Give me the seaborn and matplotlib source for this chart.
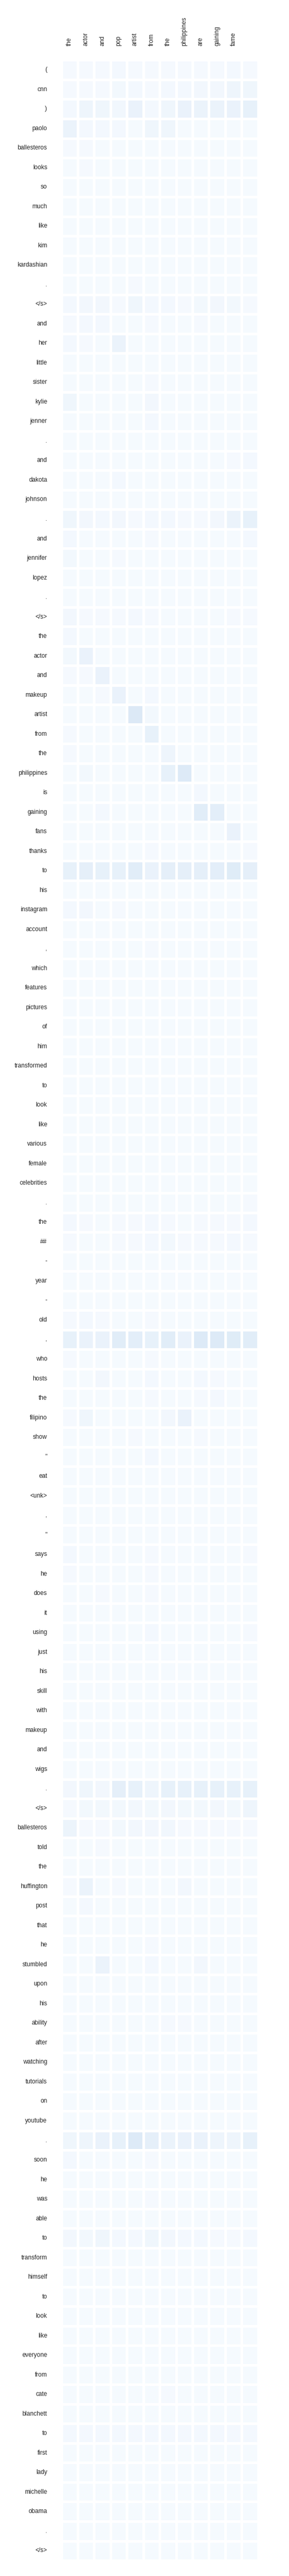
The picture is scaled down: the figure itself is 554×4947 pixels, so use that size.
"""
Attention heatmap: summary tokens (columns) against article tokens (rows).
"""

import numpy as np
import pandas as pd
import matplotlib
matplotlib.use("Agg")
import matplotlib.pyplot as plt
import seaborn as sns

# Column tokens (the last column carries no label in the original)
summary_tokens = ["the", "actor", "and", "pop", "artist", "from", "the",
                  "philippines", "are", "gaining", "fame", ""]

# Row tokens
article_tokens = [
    "(", "cnn", ")", "paolo", "ballesteros", "looks", "so", "much", "like",
    "kim", "kardashian", ".", "</s>", "and", "her", "little", "sister",
    "kylie", "jenner", ".", "and", "dakota", "johnson", ".", "and",
    "jennifer", "lopez", ".", "</s>", "the", "actor", "and", "makeup",
    "artist", "from", "the", "philippines", "is", "gaining", "fans",
    "thanks", "to", "his", "instagram", "account", ",", "which", "features",
    "pictures", "of", "him", "transformed", "to", "look", "like", "various",
    "female", "celebrities", ".", "the", "##", "-", "year", "-", "old", ",",
    "who", "hosts", "the", "filipino", "show", "\"", "eat", "<unk>", ",",
    "\"", "says", "he", "does", "it", "using", "just", "his", "skill",
    "with", "makeup", "and", "wigs", ".", "</s>", "ballesteros", "told",
    "the", "huffington", "post", "that", "he", "stumbled", "upon", "his",
    "ability", "after", "watching", "tutorials", "on", "youtube", ".",
    "soon", "he", "was", "able", "to", "transform", "himself", "to", "look",
    "like", "everyone", "from", "cate", "blanchett", "to", "first", "lady",
    "michelle", "obama", ".", "</s>",
]

# Attention weights, one list per row (row token in the comment)
attn_part1 = [
    [.015, .015, .015, .02, .015, .015, .015, .015, .015, .015, .02, .015],  # (
    [.015, .015, .015, .025, .02, .015, .02, .02, .03, .03, .05, .04],  # cnn
    [.02, .05, .04, .035, .07, .02, .04, .07, .06, .06, .07, .08],  # )
    [.06, .02, .02, .02, .01, .04, .04, .01, .01, .01, .01, .01],  # paolo
    [.015, .015, .01, .01, .01, .01, .01, .01, .01, .01, .01, .01],  # ballesteros
    [.01, .015, .01, .01, .01, .01, .01, .01, .01, .01, .01, .01],  # looks
    [.01, .01, .01, .01, .01, .01, .01, .01, .01, .01, .01, .01],  # so
    [.01, .01, .01, .01, .01, .01, .01, .01, .01, .01, .01, .01],  # much
    [.01, .01, .01, .01, .01, .01, .01, .01, .01, .01, .01, .01],  # like
    [.01, .01, .01, .01, .01, .01, .01, .01, .01, .01, .01, .01],  # kim
    [.01, .01, .01, .01, .01, .01, .01, .01, .01, .01, .01, .01],  # kardashian
    [.01, .01, .01, .01, .015, .01, .01, .01, .01, .01, .01, .01],  # .
    [.02, .03, .03, .015, .04, .02, .02, .015, .025, .03, .025, .015],  # </s>
    [.015, .02, .02, .01, .01, .015, .01, .01, .015, .01, .01, .01],  # and
    [.02, .015, .01, .06, .01, .01, .01, .01, .01, .01, .01, .01],  # her
    [.01, .01, .01, .01, .01, .01, .01, .01, .01, .01, .01, .01],  # little
    [.01, .01, .01, .01, .01, .015, .01, .01, .01, .01, .01, .01],  # sister
    [.04, .01, .01, .01, .01, .03, .01, .01, .01, .01, .01, .01],  # kylie
    [.01, .01, .01, .01, .01, .02, .01, .01, .01, .01, .01, .01],  # jenner
    [.01, .01, .01, .01, .01, .01, .01, .01, .01, .01, .01, .01],  # .
    [.01, .01, .01, .01, .01, .01, .01, .01, .01, .01, .015, .02],  # and
    [.01, .01, .01, .02, .01, .01, .01, .01, .01, .01, .01, .01],  # dakota
    [.01, .01, .01, .01, .01, .01, .01, .01, .01, .01, .01, .01],  # johnson
    [.04, .03, .02, .03, .015, .02, .02, .015, .015, .03, .06, .08],  # .
    [.02, .01, .01, .01, .01, .015, .01, .01, .01, .01, .01, .02],  # and
    [.025, .01, .01, .015, .01, .01, .01, .01, .01, .01, .01, .01],  # jennifer
    [.01, .01, .01, .01, .01, .01, .01, .01, .01, .01, .01, .01],  # lopez
    [.01, .01, .01, .01, .01, .01, .01, .01, .01, .01, .01, .01],  # .
    [.03, .015, .015, .015, .02, .015, .01, .01, .01, .01, .015, .015],  # </s>
]

attn_part2 = [
    [.02, .01, .01, .01, .01, .01, .01, .01, .01, .01, .01, .01],  # the
    [.025, .07, .01, .01, .01, .01, .01, .01, .01, .01, .01, .01],  # actor
    [.015, .015, .07, .01, .01, .01, .01, .01, .01, .01, .01, .01],  # and
    [.01, .01, .015, .07, .01, .02, .01, .01, .01, .01, .01, .01],  # makeup
    [.01, .01, .01, .01, .14, .025, .01, .01, .01, .01, .01, .01],  # artist
    [.015, .01, .01, .01, .01, .08, .01, .01, .01, .01, .01, .01],  # from
    [.015, .01, .01, .01, .01, .01, .045, .01, .01, .01, .01, .01],  # the
    [.01, .025, .01, .01, .01, .01, .08, .13, .01, .01, .01, .01],  # philippines
    [.01, .01, .01, .01, .01, .01, .01, .01, .02, .01, .01, .01],  # is
    [.01, .01, .02, .01, .01, .01, .01, .01, .11, .10, .01, .01],  # gaining
    [.01, .01, .01, .01, .01, .01, .01, .01, .01, .01, .07, .01],  # fans
    [.01, .01, .01, .01, .01, .015, .01, .01, .01, .01, .01, .015],  # thanks
    [.08, .09, .08, .08, .11, .07, .09, .09, .09, .10, .12, .09],  # to
    [.01, .01, .01, .01, .01, .01, .01, .01, .01, .01, .01, .01],  # his
    [.02, .03, .01, .015, .01, .01, .01, .01, .01, .01, .01, .01],  # instagram
    [.01, .01, .01, .01, .01, .01, .01, .01, .01, .01, .01, .01],  # account
    [.01, .01, .01, .01, .01, .015, .01, .01, .01, .01, .01, .01],  # ,
    [.01, .01, .01, .01, .01, .01, .01, .01, .01, .01, .01, .01],  # which
    [.01, .01, .01, .01, .01, .01, .01, .01, .01, .01, .01, .01],  # features
    [.01, .01, .01, .01, .01, .01, .01, .01, .01, .01, .01, .01],  # pictures
    [.01, .01, .01, .01, .01, .01, .01, .01, .01, .01, .01, .01],  # of
    [.01, .01, .01, .01, .01, .01, .01, .01, .01, .01, .01, .01],  # him
    [.01, .01, .01, .01, .01, .01, .01, .01, .01, .01, .01, .01],  # transformed
    [.01, .01, .01, .01, .01, .01, .01, .01, .01, .01, .01, .01],  # to
    [.01, .01, .01, .01, .01, .01, .01, .01, .01, .01, .01, .01],  # look
    [.01, .01, .01, .01, .01, .01, .01, .01, .01, .01, .01, .01],  # like
    [.01, .01, .01, .01, .01, .01, .01, .01, .01, .01, .01, .01],  # various
    [.01, .01, .01, .01, .01, .01, .01, .01, .01, .01, .01, .01],  # female
    [.01, .01, .01, .01, .01, .01, .01, .01, .01, .01, .01, .01],  # celebrities
    [.01, .01, .01, .01, .01, .01, .01, .01, .01, .01, .01, .015],  # .
]

attn_part3 = [
    [.02, .015, .01, .015, .015, .02, .015, .01, .015, .015, .015, .02],  # the
    [.015, .01, .01, .015, .015, .02, .025, .015, .015, .015, .02, .015],  # ##
    [.01, .01, .01, .01, .01, .01, .01, .01, .01, .01, .01, .01],  # -
    [.01, .01, .01, .01, .01, .01, .01, .01, .01, .01, .01, .01],  # year
    [.01, .01, .01, .01, .01, .01, .01, .01, .01, .01, .01, .01],  # -
    [.015, .02, .015, .01, .01, .015, .01, .01, .01, .01, .01, .01],  # old
    [.08, .07, .07, .11, .10, .08, .11, .07, .13, .13, .12, .11],  # ,
    [.015, .01, .01, .01, .01, .015, .01, .01, .01, .01, .01, .01],  # who
    [.01, .01, .03, .01, .01, .02, .01, .01, .02, .015, .01, .01],  # hosts
    [.01, .01, .01, .01, .01, .015, .01, .01, .015, .02, .01, .01],  # the
    [.015, .04, .01, .01, .01, .01, .03, .07, .01, .01, .01, .01],  # filipino
    [.01, .01, .01, .01, .015, .01, .01, .01, .015, .01, .01, .01],  # show
    [.01, .01, .01, .01, .01, .02, .01, .01, .01, .01, .01, .01],  # "
    [.01, .01, .01, .01, .01, .01, .01, .01, .01, .01, .01, .01],  # eat
    [.01, .01, .01, .01, .01, .01, .01, .01, .01, .01, .01, .01],  # <unk>
    [.01, .01, .01, .01, .01, .01, .01, .01, .01, .01, .01, .01],  # ,
    [.01, .01, .01, .01, .01, .01, .01, .01, .01, .01, .01, .01],  # "
    [.02, .01, .01, .01, .01, .015, .01, .01, .01, .01, .01, .015],  # says
    [.015, .01, .01, .01, .01, .015, .01, .01, .01, .01, .01, .01],  # he
    [.01, .01, .015, .01, .01, .015, .01, .01, .01, .01, .01, .01],  # does
    [.01, .01, .01, .01, .01, .01, .01, .01, .01, .01, .01, .01],  # it
    [.01, .01, .01, .01, .01, .02, .01, .01, .01, .01, .01, .015],  # using
    [.01, .01, .01, .01, .01, .01, .01, .01, .01, .01, .01, .01],  # just
    [.01, .01, .01, .01, .01, .01, .01, .01, .01, .01, .01, .01],  # his
    [.01, .01, .01, .01, .01, .01, .01, .01, .01, .01, .01, .01],  # skill
    [.01, .01, .01, .01, .01, .01, .01, .01, .01, .01, .01, .01],  # with
    [.01, .01, .01, .01, .01, .01, .01, .01, .01, .01, .01, .01],  # makeup
    [.01, .01, .01, .01, .01, .01, .01, .01, .01, .01, .01, .01],  # and
    [.01, .01, .01, .01, .01, .01, .01, .01, .01, .01, .01, .01],  # wigs
    [.03, .04, .03, .09, .08, .05, .08, .08, .08, .08, .08, .08],  # .
    [.015, .025, .025, .025, .03, .025, .03, .025, .025, .03, .025, .045],  # </s>
]

attn_part4 = [
    [.055, .015, .015, .025, .03, .03, .035, .015, .015, .015, .015, .015],  # ballesteros
    [.01, .01, .015, .01, .01, .01, .01, .01, .01, .01, .01, .01],  # told
    [.01, .01, .01, .01, .01, .01, .01, .01, .01, .01, .01, .01],  # the
    [.015, .06, .01, .015, .01, .01, .01, .03, .01, .01, .01, .01],  # huffington
    [.01, .02, .01, .01, .01, .01, .01, .01, .01, .01, .01, .01],  # post
    [.01, .01, .01, .01, .01, .01, .01, .01, .01, .01, .01, .01],  # that
    [.01, .01, .01, .01, .01, .015, .01, .01, .01, .01, .01, .01],  # he
    [.01, .01, .06, .01, .01, .02, .01, .01, .03, .01, .01, .01],  # stumbled
    [.01, .01, .01, .01, .01, .01, .01, .01, .01, .01, .01, .01],  # upon
    [.01, .01, .01, .01, .01, .01, .01, .01, .01, .01, .01, .01],  # his
    [.01, .01, .01, .01, .01, .01, .015, .015, .01, .01, .01, .01],  # ability
    [.01, .01, .01, .01, .01, .01, .01, .01, .01, .01, .01, .01],  # after
    [.01, .01, .01, .01, .01, .01, .01, .01, .01, .01, .01, .01],  # watching
    [.01, .01, .01, .01, .01, .01, .01, .01, .01, .01, .01, .01],  # tutorials
    [.01, .01, .01, .01, .01, .01, .01, .01, .01, .01, .01, .01],  # on
    [.01, .01, .01, .01, .01, .01, .01, .01, .01, .01, .01, .01],  # youtube
    [.04, .05, .07, .08, .13, .09, .06, .07, .07, .05, .05, .08],  # .
    [.02, .01, .01, .01, .01, .015, .01, .01, .01, .01, .01, .01],  # soon
    [.01, .01, .01, .01, .01, .01, .01, .01, .01, .01, .01, .01],  # he
    [.01, .01, .01, .01, .01, .015, .01, .01, .01, .01, .01, .01],  # was
    [.01, .01, .01, .01, .01, .01, .01, .01, .01, .01, .01, .01],  # able
    [.03, .025, .04, .02, .02, .04, .03, .02, .02, .015, .015, .02],  # to
    [.01, .01, .01, .01, .01, .01, .01, .01, .01, .01, .01, .01],  # transform
    [.01, .01, .01, .01, .01, .01, .01, .01, .01, .01, .01, .01],  # himself
    [.01, .01, .01, .01, .01, .01, .01, .01, .01, .01, .01, .01],  # to
    [.01, .01, .01, .01, .01, .01, .01, .01, .01, .01, .01, .01],  # look
    [.01, .01, .01, .01, .01, .01, .01, .01, .01, .01, .01, .01],  # like
    [.01, .01, .01, .01, .01, .01, .01, .01, .01, .01, .01, .01],  # everyone
    [.01, .01, .01, .01, .01, .01, .01, .01, .01, .01, .01, .01],  # from
    [.01, .01, .01, .01, .01, .01, .015, .01, .01, .01, .01, .01],  # cate
    [.01, .01, .01, .01, .01, .01, .01, .01, .01, .01, .01, .01],  # blanchett
    [.02, .02, .02, .02, .02, .02, .02, .02, .02, .02, .02, .02],  # to
    [.01, .01, .01, .01, .01, .01, .01, .01, .01, .01, .01, .01],  # first
    [.01, .01, .01, .01, .01, .01, .01, .01, .01, .01, .01, .01],  # lady
    [.01, .01, .01, .01, .01, .01, .01, .01, .01, .01, .01, .01],  # michelle
    [.01, .01, .01, .01, .01, .01, .01, .01, .01, .01, .01, .01],  # obama
    [.01, .01, .01, .01, .01, .01, .01, .01, .01, .01, .01, .01],  # .
    [.01, .01, .01, .01, .01, .01, .01, .01, .01, .01, .01, .01],  # </s>
]


# ====================
def main():

    sns.set_style("white")
    plt.rcParams['font.family'] = ['Liberation Sans', 'DejaVu Sans']

    weights = np.array(attn_part1 + attn_part2 + attn_part3 + attn_part4)
    data = pd.DataFrame(weights, index=range(len(article_tokens)),
                        columns=range(len(summary_tokens)))

    fig = plt.figure(figsize=(5.54, 49.47), dpi=100)
    ax = fig.add_axes([0.2121, 0.00606, 0.681, 0.9706])
    sns.heatmap(data, cmap="Blues", vmin=0, vmax=1, cbar=False,
                linewidths=2.2, linecolor="white",
                xticklabels=summary_tokens, yticklabels=article_tokens,
                ax=ax)

    # Column labels along the top, rotated
    ax.xaxis.tick_top()
    ax.set_xticklabels(summary_tokens, rotation=90, fontsize=8.5,
                       color="#262626")
    ax.set_yticklabels(article_tokens, rotation=0, fontsize=8.5,
                       color="#262626")
    ax.tick_params(axis="both", length=0, pad=19.5)
    ax.set_xlabel("")
    ax.set_ylabel("")

    fig.savefig("out.png", dpi=100)


# ====================
if __name__ == "__main__":

    main()
